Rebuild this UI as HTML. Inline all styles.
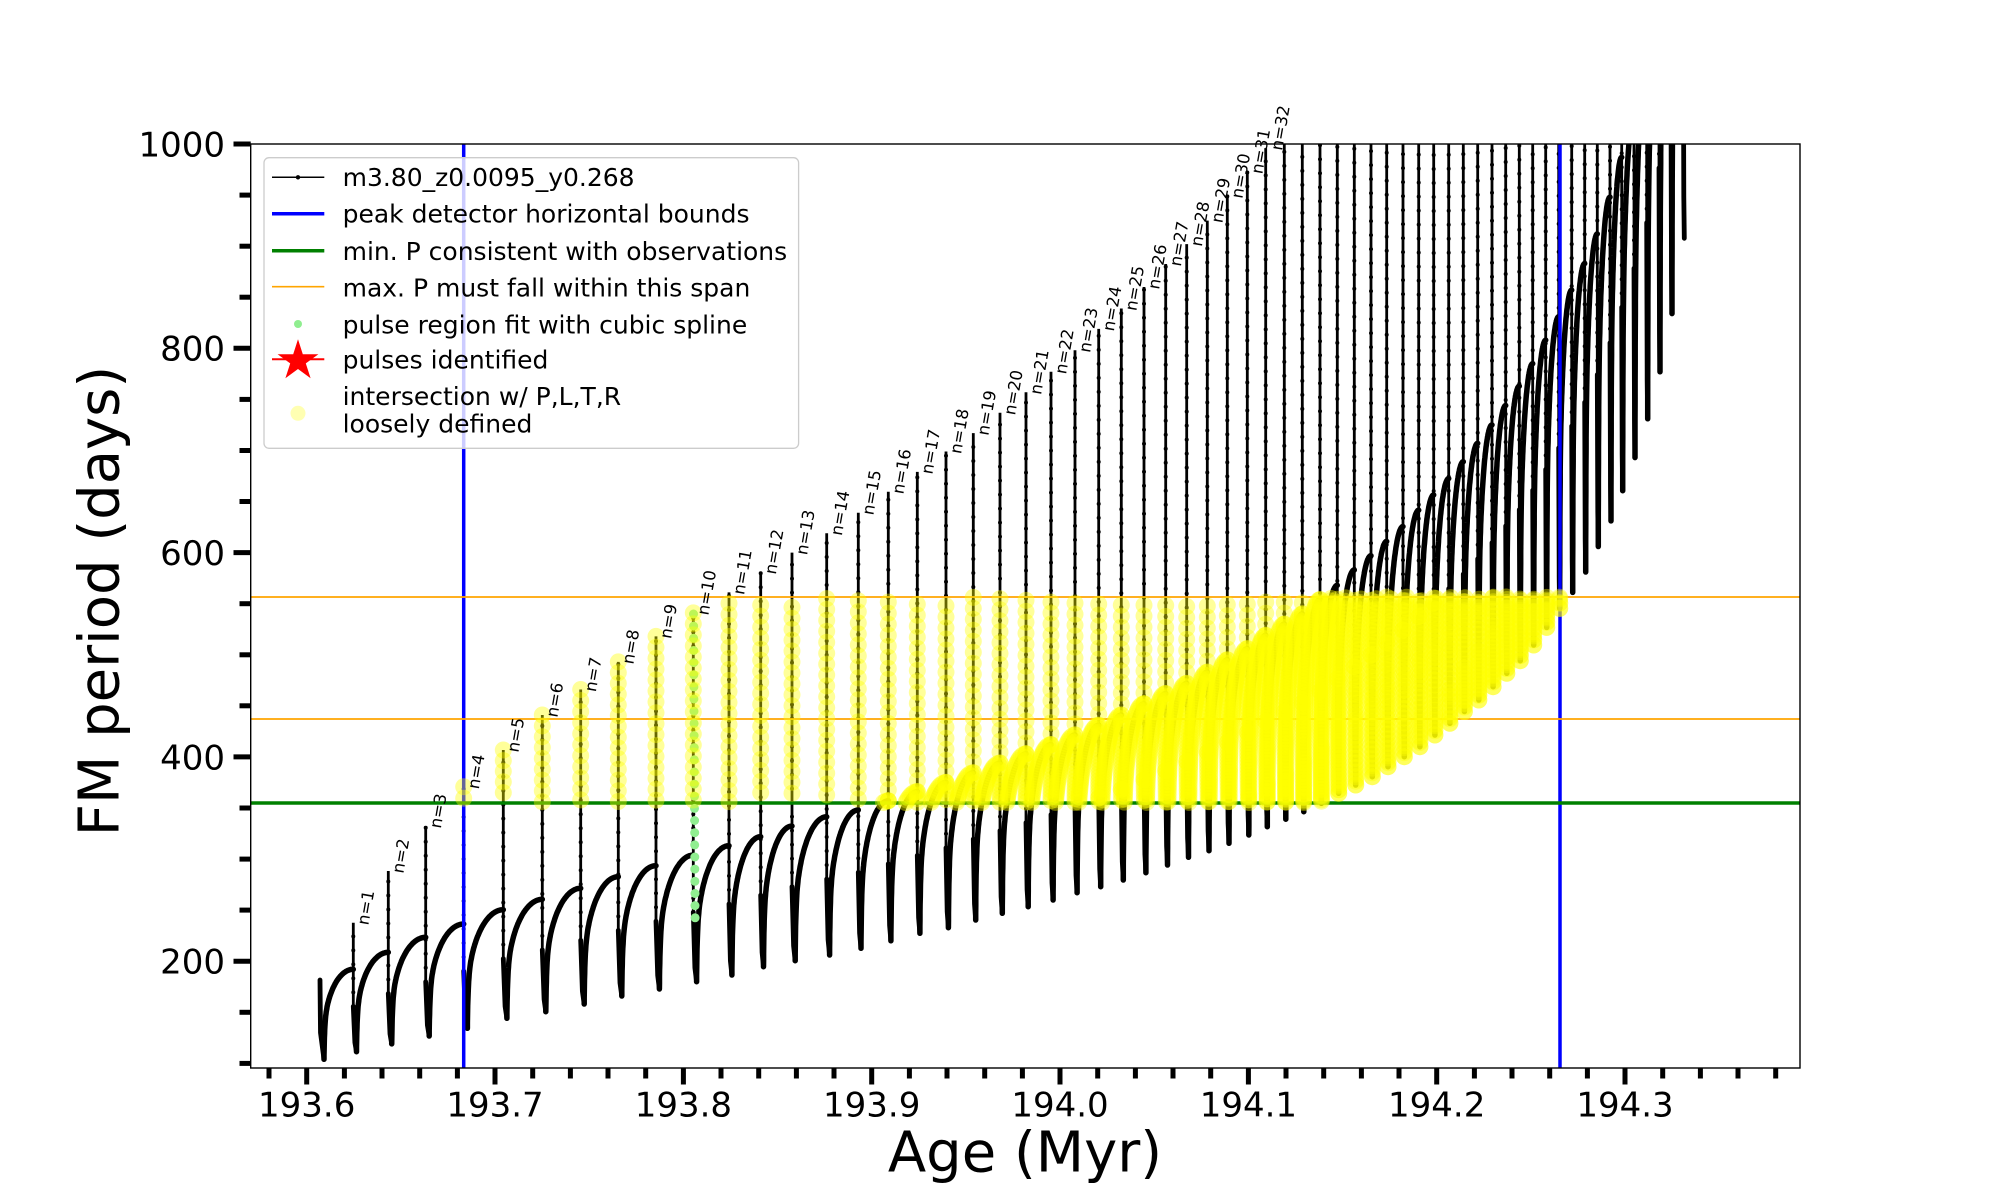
<!DOCTYPE html>
<html><head><meta charset="utf-8"><style>html,body{margin:0;padding:0;background:#fff}svg{display:block}</style></head>
<body>
<svg id="c" width="2000" height="1200" viewBox="0 0 2000 1200" xmlns="http://www.w3.org/2000/svg" font-family="DejaVu Sans, Liberation Sans, sans-serif">
<defs><clipPath id="ax"><rect x="250.7" y="144" width="1549.3" height="924"/></clipPath></defs>
<rect width="2000" height="1200" fill="#fff"/>
<g clip-path="url(#ax)">
 <g id="blk"></g>
 <line x1="463.7" y1="144" x2="463.7" y2="1068" stroke="#0000ff" stroke-width="3.5"/>
 <line x1="1560" y1="144" x2="1560" y2="1068" stroke="#0000ff" stroke-width="3.5"/>
 <line x1="250.7" y1="803" x2="1800" y2="803" stroke="#008000" stroke-width="3.4"/>
 <line x1="250.7" y1="597" x2="1800" y2="597" stroke="#ffa500" stroke-width="1.7"/>
 <line x1="250.7" y1="719" x2="1800" y2="719" stroke="#ffa500" stroke-width="1.7"/>
 <g id="grn" fill="#90ee90"></g>
 <g id="yel" fill="#ffff00" fill-opacity="0.4"></g>
</g>
<rect x="250.7" y="144" width="1549.3" height="924" fill="none" stroke="#000" stroke-width="1.4"/>
<g stroke="#000" stroke-width="5">
 <line x1="306.7" y1="1068" x2="306.7" y2="1084.5"/><line x1="495" y1="1068" x2="495" y2="1084.5"/><line x1="683.4" y1="1068" x2="683.4" y2="1084.5"/><line x1="871.7" y1="1068" x2="871.7" y2="1084.5"/><line x1="1060" y1="1068" x2="1060" y2="1084.5"/><line x1="1248.4" y1="1068" x2="1248.4" y2="1084.5"/><line x1="1436.7" y1="1068" x2="1436.7" y2="1084.5"/><line x1="1625" y1="1068" x2="1625" y2="1084.5"/>
 <line x1="269" y1="1068" x2="269" y2="1078.5"/><line x1="344.4" y1="1068" x2="344.4" y2="1078.5"/><line x1="382" y1="1068" x2="382" y2="1078.5"/><line x1="419.7" y1="1068" x2="419.7" y2="1078.5"/><line x1="457.4" y1="1068" x2="457.4" y2="1078.5"/>
 <line x1="532.7" y1="1068" x2="532.7" y2="1078.5"/><line x1="570.4" y1="1068" x2="570.4" y2="1078.5"/><line x1="608" y1="1068" x2="608" y2="1078.5"/><line x1="645.7" y1="1068" x2="645.7" y2="1078.5"/>
 <line x1="721" y1="1068" x2="721" y2="1078.5"/><line x1="758.7" y1="1068" x2="758.7" y2="1078.5"/><line x1="796.4" y1="1068" x2="796.4" y2="1078.5"/><line x1="834" y1="1068" x2="834" y2="1078.5"/>
 <line x1="909.4" y1="1068" x2="909.4" y2="1078.5"/><line x1="947" y1="1068" x2="947" y2="1078.5"/><line x1="984.7" y1="1068" x2="984.7" y2="1078.5"/><line x1="1022.4" y1="1068" x2="1022.4" y2="1078.5"/>
 <line x1="1097.7" y1="1068" x2="1097.7" y2="1078.5"/><line x1="1135.4" y1="1068" x2="1135.4" y2="1078.5"/><line x1="1173" y1="1068" x2="1173" y2="1078.5"/><line x1="1210.7" y1="1068" x2="1210.7" y2="1078.5"/>
 <line x1="1286" y1="1068" x2="1286" y2="1078.5"/><line x1="1323.7" y1="1068" x2="1323.7" y2="1078.5"/><line x1="1361.4" y1="1068" x2="1361.4" y2="1078.5"/><line x1="1399" y1="1068" x2="1399" y2="1078.5"/>
 <line x1="1474.4" y1="1068" x2="1474.4" y2="1078.5"/><line x1="1512" y1="1068" x2="1512" y2="1078.5"/><line x1="1549.7" y1="1068" x2="1549.7" y2="1078.5"/><line x1="1587.4" y1="1068" x2="1587.4" y2="1078.5"/>
 <line x1="1662.7" y1="1068" x2="1662.7" y2="1078.5"/><line x1="1700.4" y1="1068" x2="1700.4" y2="1078.5"/><line x1="1738" y1="1068" x2="1738" y2="1078.5"/><line x1="1775.7" y1="1068" x2="1775.7" y2="1078.5"/>
 <line x1="250.7" y1="144" x2="233.5" y2="144"/><line x1="250.7" y1="348.3" x2="233.5" y2="348.3"/><line x1="250.7" y1="552.6" x2="233.5" y2="552.6"/><line x1="250.7" y1="756.9" x2="233.5" y2="756.9"/><line x1="250.7" y1="961.2" x2="233.5" y2="961.2"/>
 <line x1="250.7" y1="195.1" x2="239.5" y2="195.1"/><line x1="250.7" y1="246.2" x2="239.5" y2="246.2"/><line x1="250.7" y1="297.2" x2="239.5" y2="297.2"/><line x1="250.7" y1="399.4" x2="239.5" y2="399.4"/><line x1="250.7" y1="450.5" x2="239.5" y2="450.5"/><line x1="250.7" y1="501.5" x2="239.5" y2="501.5"/><line x1="250.7" y1="603.7" x2="239.5" y2="603.7"/><line x1="250.7" y1="654.8" x2="239.5" y2="654.8"/><line x1="250.7" y1="705.8" x2="239.5" y2="705.8"/><line x1="250.7" y1="808" x2="239.5" y2="808"/><line x1="250.7" y1="859.1" x2="239.5" y2="859.1"/><line x1="250.7" y1="910.1" x2="239.5" y2="910.1"/><line x1="250.7" y1="1012.3" x2="239.5" y2="1012.3"/><line x1="250.7" y1="1063.4" x2="239.5" y2="1063.4"/>
</g>
<g font-size="34" fill="#000" text-anchor="middle">
 <text x="306.7" y="1116.5">193.6</text><text x="495" y="1116.5">193.7</text><text x="683.4" y="1116.5">193.8</text><text x="871.7" y="1116.5">193.9</text><text x="1060" y="1116.5">194.0</text><text x="1248.4" y="1116.5">194.1</text><text x="1436.7" y="1116.5">194.2</text><text x="1625" y="1116.5">194.3</text>
</g>
<g font-size="34" fill="#000" text-anchor="end">
 <text x="225" y="156.4">1000</text><text x="225" y="360.7">800</text><text x="225" y="565">600</text><text x="225" y="769.3">400</text><text x="225" y="973.6">200</text>
</g>
<text x="1025" y="1171.7" font-size="56" text-anchor="middle">Age (Myr)</text>
<text transform="translate(118.3,601) rotate(-90)" font-size="56" text-anchor="middle">FM period (days)</text>
<g font-size="16.5" fill="#000">
 <text transform="translate(368.3,925.7) rotate(-80)">n=1</text>
 <text transform="translate(403.3,874) rotate(-80)">n=2</text>
 <text transform="translate(440.7,829) rotate(-80)">n=3</text>
 <text transform="translate(478.7,789.7) rotate(-80)">n=4</text>
 <text transform="translate(518.3,753) rotate(-80)">n=5</text>
 <text transform="translate(557.3,718) rotate(-80)">n=6</text>
 <text transform="translate(595.7,692.5) rotate(-80)">n=7</text>
 <text transform="translate(633.3,664.9) rotate(-80)">n=8</text>
 <text transform="translate(671,639.4) rotate(-80)">n=9</text>
 <text transform="translate(708.3,615.9) rotate(-80)">n=10</text>
 <text transform="translate(744,595.4) rotate(-80)">n=11</text>
 <text transform="translate(775.7,575) rotate(-80)">n=12</text>
 <text transform="translate(807,555.6) rotate(-80)">n=13</text>
 <text transform="translate(841.7,536.2) rotate(-80)">n=14</text>
 <text transform="translate(873.3,515.8) rotate(-80)">n=15</text>
 <text transform="translate(903.3,494.7) rotate(-80)">n=16</text>
 <text transform="translate(932.3,474.9) rotate(-80)">n=17</text>
 <text transform="translate(961,454.5) rotate(-80)">n=18</text>
 <text transform="translate(988.3,436.1) rotate(-80)">n=19</text>
 <text transform="translate(1015,415.7) rotate(-80)">n=20</text>
 <text transform="translate(1041,395.2) rotate(-80)">n=21</text>
 <text transform="translate(1066,374.8) rotate(-80)">n=22</text>
 <text transform="translate(1090,353.3) rotate(-80)">n=23</text>
 <text transform="translate(1113.7,331.9) rotate(-80)">n=24</text>
 <text transform="translate(1136.3,311.5) rotate(-80)">n=25</text>
 <text transform="translate(1159,290) rotate(-80)">n=26</text>
 <text transform="translate(1180.7,267) rotate(-80)">n=27</text>
 <text transform="translate(1201.7,247.1) rotate(-80)">n=28</text>
 <text transform="translate(1222.3,223.6) rotate(-80)">n=29</text>
 <text transform="translate(1242.3,199.1) rotate(-80)">n=30</text>
 <text transform="translate(1262.3,174.6) rotate(-80)">n=31</text>
 <text transform="translate(1282,151.1) rotate(-80)">n=32</text>
</g>
<!-- legend -->
<rect x="264" y="157.7" width="534.6" height="290.6" rx="5" ry="5" fill="#fff" fill-opacity="0.8" stroke="#cccccc" stroke-width="1.3"/>
<line x1="272" y1="177.3" x2="324.3" y2="177.3" stroke="#000" stroke-width="1.5"/>
<circle cx="298" cy="177.3" r="2.2" fill="#000"/>
<line x1="272" y1="213.7" x2="324.3" y2="213.7" stroke="#0000ff" stroke-width="3.5"/>
<line x1="272" y1="250.7" x2="324.3" y2="250.7" stroke="#008000" stroke-width="3.5"/>
<line x1="272" y1="286.7" x2="324.3" y2="286.7" stroke="#ffa500" stroke-width="1.7"/>
<circle cx="298" cy="324" r="4" fill="#90ee90"/>
<line x1="272" y1="359.3" x2="324.3" y2="359.3" stroke="#ff0000" stroke-width="2"/>
<polygon fill="#ff0000" points="298,339.3 302.8,354.2 318.4,354.2 305.8,363.4 310.6,378.2 298,369.0 285.4,378.2 290.2,363.4 277.6,354.2 293.2,354.2"/>
<circle cx="298" cy="413.3" r="7.5" fill="#ffff00" fill-opacity="0.3"/>
<g font-size="25" fill="#000">
 <text x="342.6" y="186">m3.80_z0.0095_y0.268</text>
 <text x="342.6" y="222.7">peak detector horizontal bounds</text>
 <text x="342.6" y="260">min. P consistent with observations</text>
 <text x="342.6" y="296.7">max. P must fall within this span</text>
 <text x="342.6" y="333.3">pulse region fit with cubic spline</text>
 <text x="342.6" y="368.3">pulses identified</text>
 <text x="342.6" y="405">intersection w/ P,L,T,R</text>
 <text x="342.6" y="432.3">loosely defined</text>
</g>
</svg>
<script>
(function(){
function Y(P){return 144+(1000-P)*1.0215;}
function Pv(y){return 1000-(y-144)/1.0215;}
function f(v){return v.toFixed(1);}
var D=[
[353.3,192.1,237.7,111.4],[388.3,208.7,288.3,119],[425.7,223.4,332.4,126.8],[463.7,236.4,370.8,134.3],
[503.3,250.4,406.8,144.1],[542.3,260.6,441,150.6],[580.7,271.4,466,158.1],[618.3,282.7,493,165.9],
[656,293.5,518,172.8],[693.3,303.9,541,179.9],[729,313.1,561,186.5],[760.7,321.9,581,194.6],
[792,332.3,600,200.5],[826.7,341.4,619,206.1],[858.3,348,639,212.6],[888.3,357,659.6,220],
[917.3,366,679,227.3],[946,375,699,232.8],[973.3,384.5,717,240.3],[1000,394,737,246.9],
[1026,403,757,253.4],[1051,412,777,259.9],[1075,421.5,798,267.1],[1098.7,431,819,272.9],
[1121.3,441,839,279.5],[1144,452,860,286.6],[1165.7,462,882.5,294.2],[1186.7,472,902,301.7],
[1207.3,483,925,308.2],[1227.3,495,949,315.4],[1247.3,506,973,323.5],[1265.7,519,996,331.7],
[1284.3,530,1100,339],[1302.3,540,1100,346.4],[1320,554,1100,354.6],[1337.3,568,1100,364.4],
[1354.3,583,1100,372.5],[1371,597,1100,380.6],[1386.7,611,1100,390.4],[1403,625.5,1100,400.2],
[1418.7,641.5,1100,410],[1433.7,656.5,1100,421.4],[1448.7,672.5,1100,432.9],[1463.3,689,1100,444.4],
[1477.7,707,1100,455.7],[1492,725,1100,468.7],[1505.7,744,1100,481.8],[1519.3,763,1100,494.2],
[1532.7,785,1100,509.5],[1545.7,808,1100,526.8],[1558.7,831,1100,545.4],[1571.7,857,1100,561],
[1584.7,883,1100,581],[1597.3,912,1100,606],[1610,948,1100,631],[1621.7,987,1100,660.6],
[1634,1030,1150,693],[1646.7,1080,1200,731],[1659,1140,1250,777],[1671,1200,1300,834],
[1683.3,1280,1400,907.7]];
var rise='',spk='',thk='',yc=[],bd=[];
function inY(x,P){return P>=355.3&&P<=556.6&&x>=462&&x<=1562;}
function ys(x1,P1,x2,P2,step){var y1=Y(P1),y2=Y(P2),L=Math.sqrt((x2-x1)*(x2-x1)+(y2-y1)*(y2-y1)),n=Math.max(1,Math.round(L/step));
 for(var i=0;i<=n;i++){var t=i/n,x=x1+(x2-x1)*t,y=y1+(y2-y1)*t;if(inY(x,Pv(y)))yc.push([x,y]);}}
function g(t){if(t<=0)return 0;if(t>=1)return 1;return 0.25*(1-Math.exp(-t/0.025))+0.75*Math.sqrt(1-(1-t)*(1-t));}
function addRise(x0,P0,x1,P1,minD){
 var N=70,d='M'+f(x0)+' '+f(Y(P0));
 for(var i=1;i<=N;i++){var t=Math.pow(i/N,1.6);d+='L'+f(x0+(x1-x0)*t)+' '+f(Y(P0+(P1-P0)*g(t)));}
 rise+=d;
 var M=600,lx=-99,ly=-99;
 for(var j=0;j<=M;j++){var s=Math.pow(j/M,1.5),x=x0+(x1-x0)*s,P=P0+(P1-P0)*g(s),y=Y(P);
  if(inY(x,P)){var dd=Math.sqrt((x-lx)*(x-lx)+(y-ly)*(y-ly));if(dd>=minD){yc.push([x,y]);lx=x;ly=y;}}}
}
thk+='M320 '+f(Y(181.6))+'L320.5 '+f(Y(130))+'L324 '+f(Y(104));
var pdx=324,pdp=104;
for(var k=0;k<D.length;k++){
 var p=D[k],x=p[0],pre=p[1],pk=p[2],dip=p[3];
 var late=pre>575;
 addRise(pdx,pdp,x,pre,late?3.5:2.5);
 var iv=(k+1<D.length)?D[k+1][0]-x:12.3;
 var dx=Math.max(1,0.1*iv-0.3);
 var pkc=Math.min(pk,1015);
 var sh=dip+0.55*(pre-dip);
 spk+='M'+f(x)+' '+f(Y(pkc))+'L'+f(x)+' '+f(Y(sh));
 for(var yy=Y(sh);yy>=Math.max(Y(pkc),140);yy-=14)bd.push([x,yy]);
 thk+='M'+f(x)+' '+f(Y(sh))+'L'+f(x+dx*0.5)+' '+f(Y(dip+0.2*(sh-dip)))+'L'+f(x+dx)+' '+f(Y(dip));
 if(pre<pkc) ys(x,pre,x,pkc,11);
 ys(x,sh,x,Math.min(pre,pkc),late?5:3.5);
 ys(x,sh,x+dx,dip,late?5.5:3.5);
 pdx=x+dx;pdp=dip;
}
var h='<path d="'+rise+'" fill="none" stroke="#000" stroke-width="5.5" stroke-linejoin="round" stroke-linecap="round"/>';
h+='<path d="'+thk+'" fill="none" stroke="#000" stroke-width="4.8" stroke-linejoin="round" stroke-linecap="round"/>';
h+='<path d="'+spk+'" fill="none" stroke="#000" stroke-width="2.8"/>';
var b='<g fill="#000">';for(var i=0;i<bd.length;i++)b+='<circle cx="'+f(bd[i][0])+'" cy="'+f(bd[i][1])+'" r="2"/>';b+='</g>';
document.getElementById('blk').innerHTML=h+b;
var gs='';for(var m=0;m<26;m++){var gy=614+m*12.15,gx=693.5+1.6*(m/25);gs+='<circle cx="'+f(gx)+'" cy="'+f(gy)+'" r="4.5"/>';}
document.getElementById('grn').innerHTML=gs;
var ysz='';for(var q=0;q<yc.length;q++)ysz+='<circle cx="'+f(yc[q][0])+'" cy="'+f(yc[q][1])+'" r="8.5"/>';
document.getElementById('yel').innerHTML=ysz;
})();
</script>
</body></html>
